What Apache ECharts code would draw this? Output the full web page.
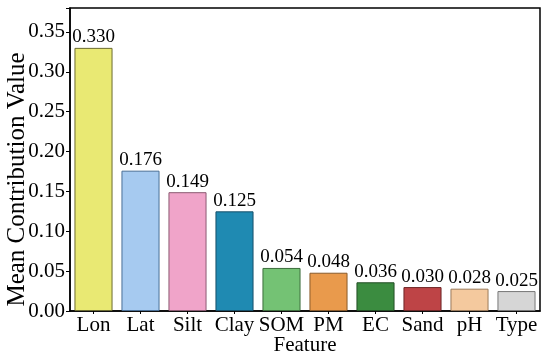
<!DOCTYPE html>
<html><head><meta charset="utf-8">
<script src="https://cdn.jsdelivr.net/npm/echarts@6/dist/echarts.min.js"></script>
<style>html,body{margin:0;padding:0;background:#fff}#c{width:550px;height:361px}</style>
</head><body><div id="c"></div>
<script>
const categories = ["Lon","Lat","Silt","Clay","SOM","PM","EC","Sand","pH","Type"];
const values = [0.330,0.176,0.149,0.125,0.054,0.048,0.036,0.030,0.028,0.025];
const colors = ["#e9e973","#a6caf0","#f0a4c9","#1f8ab2","#74c274","#e99a4c","#3b8c40","#be4446","#f4c99e","#d6d6d6"];
const edges = ["#6b6b30","#4a6f96","#8c5a72","#16506a","#3d6e3d","#8a5a2a","#234f25","#6e2627","#9a7a5a","#777777"];
const yTicks = [0,0.05,0.10,0.15,0.20,0.25,0.30,0.35];
const FONT = "Liberation Serif";
const chart = echarts.init(document.getElementById('c'));
chart.setOption({
  animation:false,
  grid:{left:70,right:10,top:8,bottom:50,show:true,borderColor:'#000',borderWidth:1.5,backgroundColor:'transparent',containLabel:false,outerBoundsMode:'none'},
  xAxis:{type:'category',data:categories,name:'Feature',nameLocation:'middle',nameGap:24,nameMoveOverlap:false,
    nameTextStyle:{fontFamily:FONT,fontSize:21,color:'#000'},
    axisLine:{lineStyle:{color:'#000',width:1.5}},
    axisTick:{show:true,alignWithLabel:true,length:3,lineStyle:{color:'#000'}},
    axisLabel:{fontFamily:FONT,fontSize:21,color:'#000',margin:4,interval:0}},
  yAxis:{type:'value',min:0,max:0.38,interval:0.05,name:'Mean Contribution Value',nameLocation:'middle',nameGap:40,nameMoveOverlap:false,
    nameTextStyle:{fontFamily:FONT,fontSize:25,color:'#000',padding:[0,40,0,0]},
    splitLine:{show:false},
    axisLine:{show:true,lineStyle:{color:'#000',width:1.5}},
    axisTick:{show:true,length:4,lineStyle:{color:'#000'}},
    axisLabel:{fontFamily:FONT,fontSize:21,color:'#000',margin:5,
      formatter:v=>{const t=yTicks.find(x=>Math.abs(x-v)<1e-9);return t===undefined?'':t.toFixed(2);}}},
  series:[{type:'bar',barWidth:'81%',
    data:values.map((v,i)=>({value:v,itemStyle:{color:colors[i],borderColor:edges[i],borderWidth:1}})),
    label:{show:true,position:'top',distance:1,fontFamily:FONT,fontSize:19,color:'#000',formatter:p=>p.value.toFixed(3)}}]
});
</script></body></html>
